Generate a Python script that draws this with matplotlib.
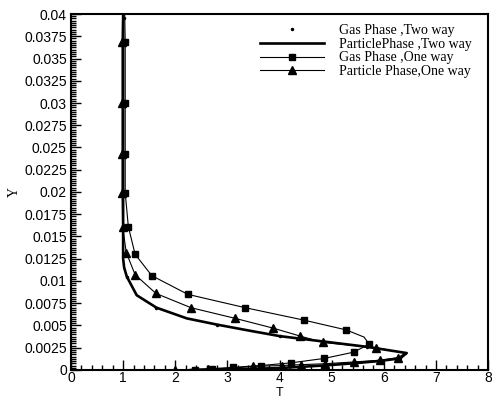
import numpy as np
import matplotlib
matplotlib.use("Agg")
import matplotlib.pyplot as plt
from matplotlib.ticker import MultipleLocator, FormatStrFormatter

# values
# Particle phase, two way (thick line)
pp_two_T = [1.0, 1.0, 1.0, 1.02, 1.07, 1.26, 1.64, 2.22, 2.80, 3.44, 4.01, 4.84, 5.68, 6.44,
            6.31, 5.90, 5.42, 4.84, 4.01, 3.20, 2.60, 2.30]
pp_two_Y = [0.040, 0.020, 0.0125, 0.0115, 0.0105, 0.0084, 0.0070, 0.0058, 0.0051, 0.0044, 0.0038,
            0.0032, 0.0026, 0.0019, 0.0013, 0.0010, 0.00075, 0.0005, 0.00022, 0.00008, 0.00002, 0.0]

# Gas phase, two way (dots only)
gas_two_T = [1.02, 1.0, 1.0, 1.07, 1.64, 2.80, 4.01, 5.68, 6.31, 5.42, 4.01, 2.60]
gas_two_Y = [0.0395, 0.030, 0.020, 0.0105, 0.0070, 0.0051, 0.0038, 0.0026, 0.0013, 0.00075, 0.00022, 0.00002]

# Gas phase, one way (squares)
gas_one_T = [1.03, 1.04, 1.04, 1.04, 1.04, 1.10, 1.23, 1.55, 2.24, 3.34, 4.47, 5.28, 5.62, 5.72,
             5.42, 4.86, 4.22, 3.64, 3.11, 2.70, 2.38]
gas_one_Y = [0.040, 0.0369, 0.0300, 0.0243, 0.0199, 0.0161, 0.0130, 0.0106, 0.0085, 0.0070, 0.0056,
             0.0045, 0.0037, 0.0029, 0.0020, 0.0013, 0.0008, 0.0005, 0.0003, 0.00015, 0.00005]
gas_one_mark = [1, 2, 3, 4, 5, 6, 7, 8, 9, 10, 11, 13, 14, 15, 16, 17, 18, 19, 20]

# Particle phase, one way (triangles)
pp_one_T = [0.99, 0.98, 0.98, 0.98, 0.98, 0.99, 1.06, 1.23, 1.63, 2.30, 3.15, 3.88, 4.40, 4.83,
            5.85, 6.41, 6.28, 5.93, 5.42, 4.87, 4.42, 4.04, 3.50, 3.08, 2.63, 2.00]
pp_one_Y = [0.040, 0.0369, 0.0300, 0.0243, 0.0199, 0.0161, 0.0132, 0.0107, 0.0086, 0.0070, 0.0058,
            0.0047, 0.0038, 0.0031, 0.0025, 0.0019, 0.0014, 0.0011, 0.0009, 0.0007, 0.0006, 0.0005,
            0.0004, 0.0002, 0.0001, 0.0]
pp_one_mark = [i for i in range(1, 26) if i != 15]

fig = plt.figure(figsize=(4.92, 3.98), dpi=100)
ax = fig.add_axes([0.1443, 0.0704, 0.8477, 0.8944])

ax.plot(gas_two_T, gas_two_Y, ls="none", marker=".", ms=3, color="black",
        label="Gas Phase ,Two way")
ax.plot(pp_two_T, pp_two_Y, color="black", lw=1.9, label="ParticlePhase ,Two way")
ax.plot(gas_one_T, gas_one_Y, color="black", lw=0.8, marker="s", ms=5,
        markevery=gas_one_mark, label="Gas Phase ,One way")
ax.plot(pp_one_T, pp_one_Y, color="black", lw=0.8, marker="^", ms=6,
        markevery=pp_one_mark, label="Particle Phase,One way")

ax.set_xlim(0, 8)
ax.set_ylim(0, 0.04)
ax.xaxis.set_major_locator(MultipleLocator(1))
ax.xaxis.set_minor_locator(MultipleLocator(0.2))
ax.yaxis.set_major_locator(MultipleLocator(0.0025))
ax.yaxis.set_minor_locator(MultipleLocator(0.00025))
ax.xaxis.set_major_formatter(FormatStrFormatter("%g"))
ax.yaxis.set_major_formatter(FormatStrFormatter("%g"))

ax.tick_params(which="both", direction="in", top=False, right=False, width=1.0,
               labelsize=10, pad=3)
ax.tick_params(axis="x", pad=1)
ax.tick_params(which="major", length=7)
ax.tick_params(which="minor", length=3.5)
for lab in ax.get_xticklabels() + ax.get_yticklabels():
    lab.set_family("Liberation Sans")
for s in ax.spines.values():
    s.set_linewidth(1.5)

ax.set_xlabel("T", fontsize=9, family="Liberation Sans", va="top")
ax.xaxis.set_label_coords(0.5, -0.047)
ax.set_ylabel("Y", fontsize=10, family="Liberation Serif", labelpad=2)

ax.legend(loc="upper right", bbox_to_anchor=(0.985, 1.0), frameon=False,
          prop={"family": "Liberation Serif", "size": 10}, handlelength=4.6,
          labelspacing=0.06, handletextpad=1.1, numpoints=1, borderaxespad=0.3)

fig.savefig("out.png", dpi=100)
